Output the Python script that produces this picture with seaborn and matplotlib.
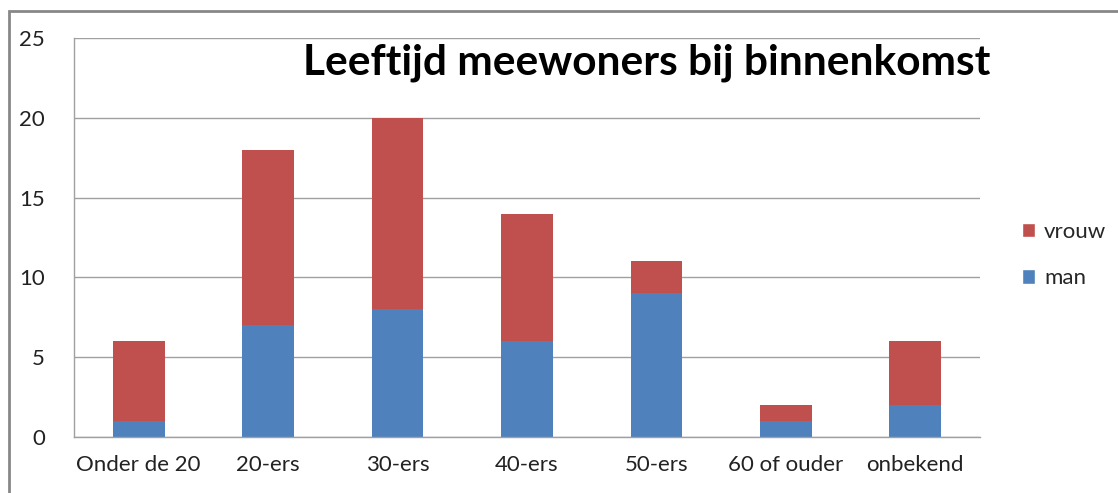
import seaborn as sns
import matplotlib.pyplot as plt
import pandas as pd
from matplotlib.patches import Patch, Rectangle

categories = ["Onder de 20", "20-ers", "30-ers", "40-ers", "50-ers", "60 of ouder", "onbekend"]
man = [1, 7, 8, 6, 9, 1, 2]
vrouw = [5, 11, 12, 8, 2, 1, 4]

red = '#C0504D'
blue = '#4F81BD'
grid_col = '#A0A0A0'

df = pd.DataFrame({'cat': categories, 'man': man, 'vrouw': vrouw})
df['totaal'] = df['man'] + df['vrouw']

sns.set_style('white')
plt.rcParams['font.family'] = ['Lato', 'DejaVu Sans']

fig = plt.figure(figsize=(11.18, 4.93), dpi=100)
ax = fig.add_axes([74/1118, 1-437/493, 906/1118, 399/493])

# stacked: total in red, man on top of it from zero
sns.barplot(data=df, x='cat', y='totaal', color=red, width=0.4, saturation=1, linewidth=0, ax=ax)
sns.barplot(data=df, x='cat', y='man', color=blue, width=0.4, saturation=1, linewidth=0, ax=ax)

ax.set_xlim(-0.5, len(categories) - 0.5)
ax.set_ylim(0, 25)
ax.set_yticks([0, 5, 10, 15, 20, 25])
ax.yaxis.grid(True, color=grid_col, linewidth=1)
ax.set_axisbelow(True)
ax.set_xlabel('')
ax.set_ylabel('')

for s in ['top', 'right']:
    ax.spines[s].set_visible(False)
for s in ['left', 'bottom']:
    ax.spines[s].set_color(grid_col)
    ax.spines[s].set_linewidth(1)

# category-boundary ticks on x
ax.set_xticks(range(len(categories)))
ax.set_xticklabels(categories, fontsize=16)
ax.tick_params(axis='x', length=0, pad=13)
ax.set_xticks([i - 0.5 for i in range(len(categories) + 1)], minor=True)
ax.tick_params(axis='x', which='minor', length=7, color=grid_col, width=1, direction='out')
ax.tick_params(axis='y', length=7, color=grid_col, width=1, labelsize=16, pad=14, direction='out')
ax.tick_params(axis='both', labelcolor='#222222')

fig.text(647/1118, 1-63/493, 'Leeftijd meewoners bij binnenkomst', fontsize=30.5, fontweight='bold',
         ha='center', va='center', color='black')

legend_elements = [Patch(facecolor=red, label='vrouw'), Patch(facecolor=blue, label='man')]
fig.legend(handles=legend_elements, loc='center left', bbox_to_anchor=(1002/1118, 1-255/493),
           frameon=False, fontsize=16, handlelength=0.6, handleheight=0.6, handletextpad=0.4,
           labelspacing=1.2)

# outer chart frame
fig.patches.append(Rectangle((9/1118, -0.1), 1.2, 1 - 11/493 + 0.1, transform=fig.transFigure,
                             fill=False, edgecolor='#888888', linewidth=2, figure=fig))

plt.savefig('out.png', dpi=100)
